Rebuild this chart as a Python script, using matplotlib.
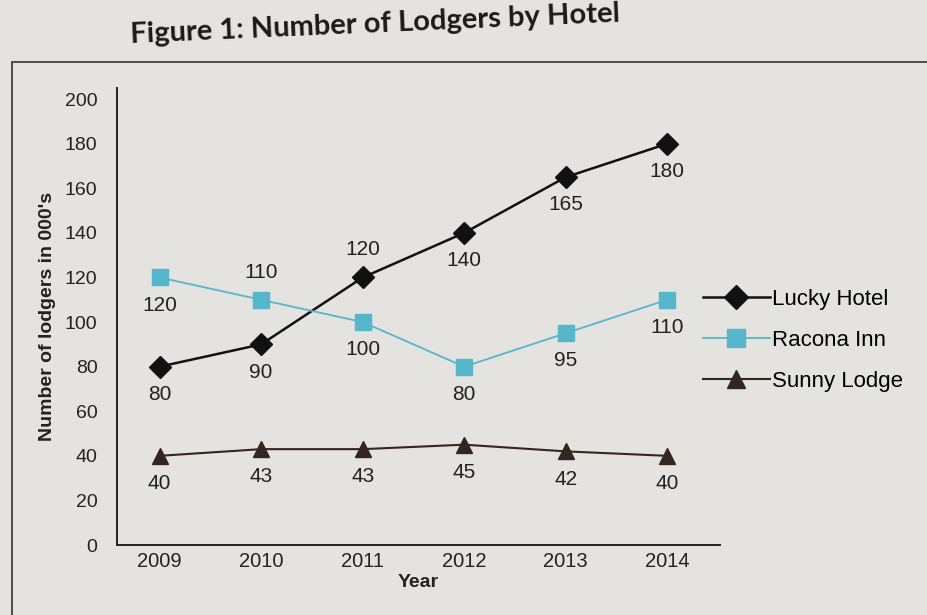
import matplotlib
matplotlib.use("Agg")
import matplotlib.pyplot as plt
from matplotlib.patches import Rectangle

years = [2009, 2010, 2011, 2012, 2013, 2014]
lucky_hotel = [80, 90, 120, 140, 165, 180]
racona_inn = [120, 110, 100, 80, 95, 110]
sunny_lodge = [40, 43, 43, 45, 42, 40]
yticks = [0, 20, 40, 60, 80, 100, 120, 140, 160, 180, 200]

# label placement: 1 = above, -1 = below
lucky_pos = [-1, -1, 1, -1, -1, -1]
racona_pos = [-1, 1, -1, -1, -1, -1]
sunny_pos = [-1, -1, -1, -1, -1, -1]

bg = "#e4e3df"
plt.rcParams["font.family"] = ["Liberation Sans", "DejaVu Sans"]

fig = plt.figure(figsize=(9.28, 6.15), dpi=100, facecolor=bg)
ax = fig.add_axes([117/928, 1-545/615, (720-117)/928, (545-88)/615])
ax.set_facecolor(bg)

series = [
    ("Lucky Hotel", lucky_hotel, "#111111", "D", 11, 1.8, lucky_pos),
    ("Racona Inn", racona_inn, "#55b6cc", "s", 12, 1.3, racona_pos),
    ("Sunny Lodge", sunny_lodge, "#33261f", "^", 12, 1.5, sunny_pos),
]
for name, vals, col, mk, ms, lw, pos in series:
    ax.plot(years, vals, color=col, marker=mk, markersize=ms, linewidth=lw,
            label=name, markeredgecolor=col)
    for x, v, p in zip(years, vals, pos):
        ax.annotate(str(v), (x, v), xytext=(0, 20 * p), textcoords="offset points",
                    ha="center", va="center", fontsize=15, color="#222222")

ax.set_xlim(2008.58, 2014.52)
ax.set_ylim(0, 205)
ax.set_yticks(yticks)
ax.set_xticks(years)
ax.tick_params(axis="y", length=0, labelsize=14, colors="#222222", pad=14)
ax.tick_params(axis="x", length=0, labelsize=14.5, colors="#222222", pad=5)
for s in ["top", "right"]:
    ax.spines[s].set_visible(False)
for s in ["left", "bottom"]:
    ax.spines[s].set_color("#222222")
    ax.spines[s].set_linewidth(1.4)
ax.set_xlabel("Year", fontsize=14, fontweight="bold", labelpad=2, color="#222222")
ax.set_ylabel("Number of lodgers in 000's", fontsize=14, fontweight="bold",
              labelpad=6, color="#222222")

fig.legend(loc="center left", bbox_to_anchor=(683/928, 1-340/615), frameon=False,
           fontsize=16, handlelength=3.0, labelspacing=0.9, handletextpad=0.1,
           markerscale=1.1)

fig.patches.append(Rectangle((12/928, -0.05), 1.0, 0.05 + 1-62/615,
                             transform=fig.transFigure, fill=False,
                             edgecolor="#333333", linewidth=1.2))

fig.text(130/928, 1-24/615, "Figure 1: Number of Lodgers by Hotel", fontsize=21,
         fontweight="bold", family=["Lato", "DejaVu Sans"], color="#1e1a18",
         ha="left", va="center", rotation=2.5)

fig.savefig("out.png", dpi=100, facecolor=bg)
